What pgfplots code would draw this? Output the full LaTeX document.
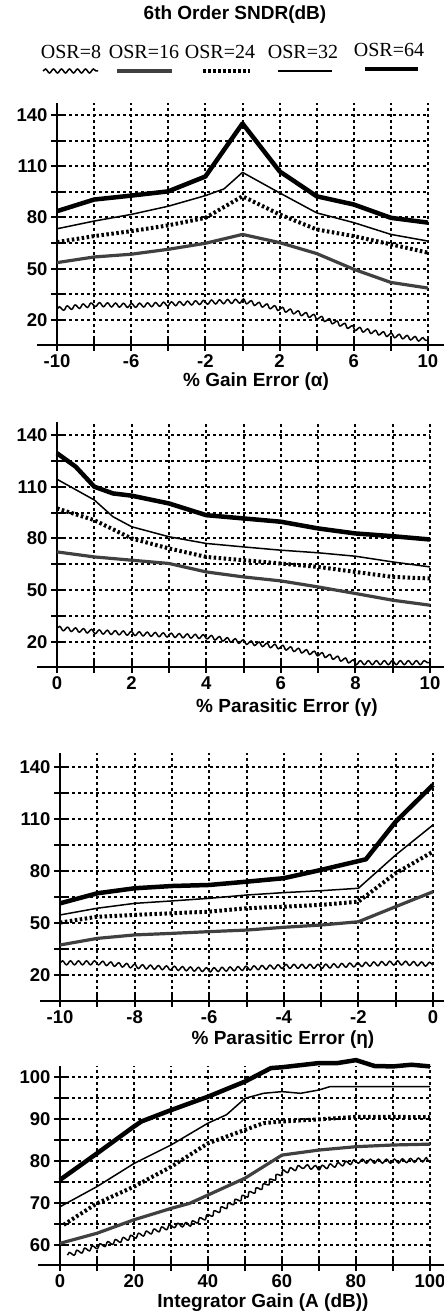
\documentclass[border=0pt]{standalone}
\usepackage{fontspec}
\setmainfont{Liberation Sans}
\newfontfamily\serifT{Liberation Serif}
\usepackage{pgfplots}
\pgfplotsset{compat=1.18}
\usetikzlibrary{decorations.pathmorphing}

\tikzset{
 osr8/.style={black, line width=1.5pt, decorate, decoration={snake, amplitude=2pt, segment length=8pt}},
 osr16/.style={black!75, line width=3.2pt, line join=round},
 osr24/.style={black, line width=4pt, dash pattern=on 2.5pt off 2.5pt},
 osr32/.style={black, line width=1.5pt, line join=round},
 osr64/.style={black, line width=4.5pt, line join=round},
 lab/.style={font=\bfseries\fontsize{19}{19}\selectfont},
}
\pgfplotsset{
 base/.style={scale only axis, anchor=south west,
  axis x line*=bottom, axis y line*=left,
  axis line style={line width=2.8pt,-},
  grid=both,
  major grid style={black, line width=2pt, dash pattern=on 3pt off 3pt},
  minor grid style={black, line width=2pt, dash pattern=on 3pt off 3pt},
  tick style={black, line width=2pt},
  tick align=center, major tick length=12pt, minor tick length=12pt,
  ticklabel style={font=\fontsize{18.5}{18.5}\selectfont\bfseries},
  /pgf/number format/assume math mode=true,
  clip=false},
}
\begin{document}
\begin{tikzpicture}
\path[use as bounding box] (0,0) rectangle (444pt,1315pt);

% Title and legend
\node[lab] at (235pt,1300pt) {6th Order SNDR(dB)};
\begin{scope}[font=\serifT\fontsize{20}{20}\selectfont]
\node at (71pt,1263pt) {OSR=8};
\node at (144pt,1263pt) {OSR=16};
\node at (220pt,1263pt) {OSR=24};
\node at (303pt,1263pt) {OSR=32};
\node at (389pt,1265pt) {OSR=64};
\end{scope}
\draw[osr8] (43pt,1244pt) -- (98pt,1244pt);
\draw[osr16] (117pt,1244pt) -- (172pt,1244pt);
\draw[osr24] (203pt,1244pt) -- (250pt,1244pt);
\draw[osr32] (278pt,1244pt) -- (332pt,1244pt);
\draw[osr64] (365pt,1246pt) -- (418pt,1246pt);

% Plot 1
\begin{axis}[base, name=ax1, at={(57pt,970pt)}, width=371pt, height=242pt,
  xmin=-10, xmax=10, ymin=5.4, ymax=147,
  xtick={-10,-6,-2,2,6,10}, xticklabels={-10,-6,-2,2,6,10}, minor xtick={-8,-4,0,4,8},
  ytick={20,50,80,110,140}, minor ytick={35,65,95,125}]
\addplot[osr64] coordinates {(-10,83.7)(-8,90.5)(-6,92.8)(-4,95.3)(-2,104)(0,135)(2,107)(4,92.4)(6,87.6)(8,79.8)(10,77)};
\addplot[osr32] coordinates {(-10,73.4)(-8,77.9)(-6,81.8)(-4,86.6)(-2,92.8)(-1,96.7)(0,106.4)(2,94.4)(4,82.7)(6,77)(8,70.1)(10,66.2)};
\addplot[osr24] coordinates {(-10,65.6)(-8,69.1)(-6,72)(-4,75.4)(-2,79.8)(0,92.4)(2,81.8)(4,73)(6,69.1)(8,64.3)(10,59.4)};
\addplot[osr16] coordinates {(-10,53.6)(-8,56.9)(-6,58.5)(-4,61.4)(-2,64.9)(0,70.1)(2,65.3)(4,58.9)(6,49.7)(8,42)(10,38.7)};
\addplot[osr8] coordinates {(-10,26.4)(-8,29)(-6,28.4)(-4,29.3)(-2,30.3)(0,31)(2,26.4)(4,21.5)(6,15)(8,11)(10,8)};
\end{axis}
\draw[line width=2.8pt] (37pt,970pt) -- (444pt,970pt);
\node[lab] at (256pt,933pt) {\% Gain Error (α)};

% Plot 2
\begin{axis}[base, name=ax2, at={(57pt,648pt)}, width=373pt, height=245pt,
  xmin=0, xmax=10, ymin=5.5, ymax=147.5,
  xtick={0,2,4,6,8,10}, xticklabels={0,2,4,6,8,10}, minor xtick={1,3,5,7,9},
  ytick={20,50,80,110,140}, minor ytick={35,65,95,125}]
\addplot[osr64] coordinates {(0,129.4)(0.5,121.6)(1,110)(1.5,106.1)(2,104.8)(3,100.3)(4,93.5)(5,91.6)(6,89.7)(7,85.8)(8,82.9)(9,81.3)(10,79.4)};
\addplot[osr32] coordinates {(0,114.3)(1,102.3)(1.5,92.6)(2,86.8)(3,81)(4,77.1)(5,75.1)(6,73.2)(7,71.7)(8,69.7)(9,66.4)(10,63.5)};
\addplot[osr24] coordinates {(0,97.4)(1,90.6)(2,80)(3,74.2)(4,69.3)(5,67.4)(6,65.5)(7,63.5)(8,60.6)(9,57.7)(10,56.8)};
\addplot[osr16] coordinates {(0,72.2)(1,69.3)(2,67.4)(3,65.5)(4,60.6)(5,57.7)(6,55.4)(7,51.9)(8,48.1)(9,44.2)(10,41.3)};
\addplot[osr8] coordinates {(0,28)(1,26)(2,25)(3,24)(4,23)(5,20)(6,17)(7,13)(8,8)(9,8)(10,8)};
\end{axis}
\draw[line width=2.8pt] (37pt,648pt) -- (444pt,648pt);
\node[lab] at (287pt,607pt) {\% Parasitic Error (γ)};

% Plot 3
\begin{axis}[base, name=ax3, at={(60pt,314pt)}, width=373pt, height=248pt,
  xmin=-10, xmax=0, ymin=5, ymax=148,
  xtick={-10,-8,-6,-4,-2,0}, xticklabels={-10,-8,-6,-4,-2,0}, minor xtick={-9,-7,-5,-3,-1},
  ytick={20,50,80,110,140}, minor ytick={35,65,95,125}]
\addplot[osr64] coordinates {(-10,61.3)(-9,67.1)(-8,70)(-7,71.3)(-6,71.9)(-5,73.8)(-4,75.8)(-3,80.6)(-1.8,86.7)(-1,108.4)(0,129.6)};
\addplot[osr32] coordinates {(-10,54.6)(-9,58.5)(-8,61.3)(-7,62.7)(-6,64.2)(-5,66.1)(-4,67.5)(-3,68.6)(-2,70)(-1,89.2)(0,106.5)};
\addplot[osr24] coordinates {(-10,50.2)(-9,53.6)(-8,54.6)(-7,55.6)(-6,56.5)(-5,58.5)(-4,59.4)(-3,60.4)(-2,62.3)(-1,78.7)(0,91.1)};
\addplot[osr16] coordinates {(-10,37.3)(-9,41.1)(-8,43.1)(-7,44)(-6,45)(-5,45.9)(-4,47.5)(-3,48.8)(-2,50.7)(-1,59.4)(0,68)};
\addplot[osr8] coordinates {(-10,27)(-9,27)(-8,25)(-7,24)(-6,23)(-5,24)(-4,25)(-3,25)(-2,26)(-1,27)(0,26)};
\end{axis}
\draw[line width=2.8pt] (40pt,314pt) -- (444pt,314pt);
\node[lab] at (283pt,275pt) {\% Parasitic Error (η)};

% Plot 4
\begin{axis}[base, name=ax4, at={(60pt,50pt)}, width=370pt, height=199pt,
  xmin=0, xmax=100, ymin=55.24, ymax=102.6,
  xtick={0,20,40,60,80,100}, xticklabels={0,20,40,60,80,100}, minor xtick={10,30,50,70,90},
  ytick={60,70,80,90,100}, minor ytick={65,75,85,95}]
\addplot[osr64] coordinates {(0,75.5)(10,81.8)(20,88.2)(22,89.4)(30,92.1)(40,95.3)(50,98.9)(57,102.1)(60,102.3)(70,103.3)(75,103.3)(80,104)(85,102.6)(90,102.5)(95,102.9)(100,102.5)};
\addplot[osr32] coordinates {(0,69.1)(10,73.9)(20,79.4)(30,83.8)(40,89)(45,91)(50,94.9)(55,96.1)(60,96.5)(65,96.1)(70,96.9)(73,97.7)(100,97.7)};
\addplot[osr24] coordinates {(1,64.8)(5,67.1)(10,69.9)(20,73.9)(30,78.6)(40,84.2)(50,87.4)(55,89)(60,89.4)(70,89.9)(80,90.5)(90,90.5)(100,90.4)};
\addplot[osr16] coordinates {(0,60.4)(10,62.8)(20,66)(30,68.7)(35,69.9)(40,71.9)(50,75.9)(60,81.4)(70,82.6)(80,83.4)(90,83.8)(100,84)};
\addplot[osr8] coordinates {(2,57.6)(10,59.6)(20,62)(30,64.4)(35,64.8)(40,66.7)(45,69.1)(50,71.5)(55,73.9)(60,77.1)(65,78.3)(70,77.9)(80,79.4)(90,79.4)(100,79.8)};
\end{axis}
\draw[line width=2.8pt] (38pt,50pt) -- (444pt,50pt);
\node[lab] at (263pt,12pt) {Integrator Gain (A (dB))};
\end{tikzpicture}
\end{document}
